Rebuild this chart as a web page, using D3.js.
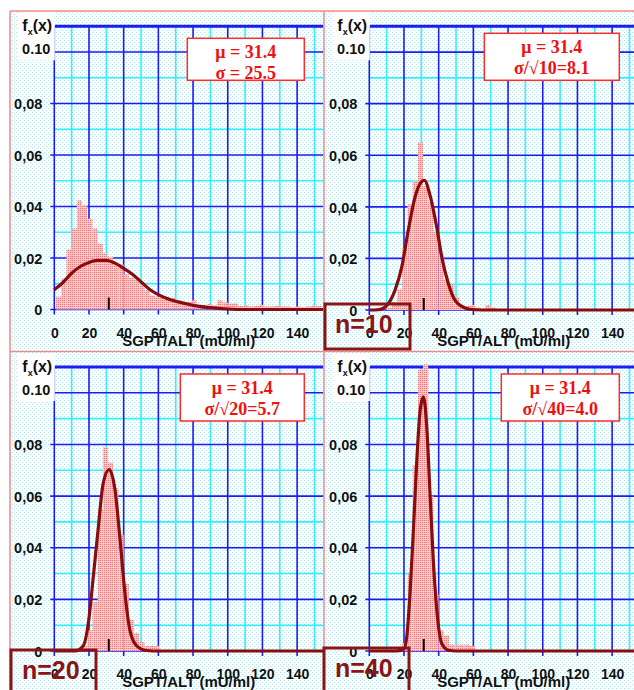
<!DOCTYPE html>
<html>
<head>
<meta charset="utf-8">
<script src="https://cdn.jsdelivr.net/npm/d3@7"></script>
<style>
  body { margin: 0; background: #fff; }
  svg { display: block; }
</style>
</head>
<body>
<svg id="chart" width="634" height="690"></svg>
<script>
// histogram bins (mU/ml), each 3 wide
const binStarts = [1, 4, 7, 10, 13, 16, 19, 22, 25, 28, 31, 34, 37, 40, 43, 46, 49, 52, 55, 58,
  61, 64, 67, 70, 73, 76, 79, 82, 85, 88, 91, 94, 97, 100, 103, 106, 109, 112, 115, 118,
  121, 124, 127, 130, 133, 136, 139, 142, 145, 148, 151];
const binWidth = 3;

// relative frequencies
const histSingle = [0.005, 0.012, 0.0233, 0.0315, 0.0424, 0.0405, 0.0353, 0.0315, 0.0256, 0.0218,
  0.0205, 0.0175, 0.0175, 0.0137, 0.0124, 0.0118, 0.0094, 0.0075, 0.0055, 0.0049,
  0.0049, 0.0049, 0.0045, 0.0032, 0.0029, 0.0029, 0.0036, 0.0017, 0.0017, 0.0022,
  0.0017, 0.0036, 0.0028, 0.0024, 0.0024, 0.0014, 0.0017, 0.0012, 0.0014, 0.0019,
  0.0012, 0.0012, 0.0014, 0.0012, 0.0012, 0.0010, 0.0012, 0.0010, 0.0012, 0.0014, 0.0014];
const histN10 = [0, 0, 0, 0.001, 0.003, 0.008, 0.024, 0.041, 0.050, 0.065,
  0.048, 0.042, 0.030, 0.022, 0.012, 0.010, 0.005, 0.002, 0.0015, 0.002,
  0.001, 0, 0.002, 0.001, 0, 0, 0, 0, 0, 0,
  0, 0, 0, 0, 0, 0, 0, 0, 0, 0,
  0, 0, 0, 0, 0, 0, 0, 0, 0, 0, 0];
const histN20 = [0, 0, 0, 0, 0, 0.002, 0.008, 0.019, 0.055, 0.079,
  0.073, 0.063, 0.045, 0.026, 0.012, 0.007, 0.0035, 0.002, 0.002, 0.002,
  0, 0, 0, 0, 0, 0, 0, 0, 0, 0,
  0, 0, 0, 0, 0, 0, 0, 0, 0, 0,
  0, 0, 0, 0, 0, 0, 0, 0, 0, 0, 0];
const histN40 = [0, 0, 0, 0, 0, 0, 0.003, 0.03, 0.072, 0.109,
  0.111, 0.06, 0.022, 0.008, 0.006, 0.0025, 0.0025, 0.0025, 0.0025, 0.002,
  0, 0, 0, 0, 0, 0, 0, 0, 0, 0,
  0, 0, 0, 0, 0, 0, 0, 0, 0, 0,
  0, 0, 0, 0, 0, 0, 0, 0, 0, 0, 0];

// fitted density curves, [x, f(x)] points
const curveSingle = [[0, 0.0077], [5, 0.0105], [10, 0.0141], [15, 0.0167], [20, 0.0183], [25, 0.0191],
  [30, 0.0191], [35, 0.018], [40, 0.016], [45, 0.0137], [50, 0.0108], [55, 0.0078], [60, 0.0058],
  [65, 0.0043], [70, 0.0032], [75, 0.0024], [80, 0.0016], [90, 0.0007], [100, 0.0002], [110, 0], [155, 0]];
const curveN10 = [[0, 0], [5, 0.0001], [9, 0.0011], [14.8, 0.0076], [18.7, 0.0166], [22.5, 0.031],
  [26.4, 0.0438], [29.3, 0.049], [31.7, 0.0503], [35, 0.0445], [38.9, 0.032], [41.8, 0.0205],
  [45.6, 0.0102], [49.5, 0.0037], [55.2, 0.0008], [61, 0.0001], [70, 0], [155, 0]];
const curveN20 = [[0, 0], [12, 0], [16.7, 0.002], [19.6, 0.0107], [22.5, 0.0288], [25.4, 0.048],
  [28.2, 0.065], [31.6, 0.0703], [35, 0.0624], [37.8, 0.044], [40.7, 0.0225], [43.6, 0.008],
  [47.5, 0.002], [53.2, 0.0002], [60, 0], [155, 0]];
const curveN40 = [[0, 0], [15, 0], [20, 0.0008], [21.6, 0.0055], [23.5, 0.0225], [25.5, 0.048],
  [27.4, 0.074], [29.3, 0.093], [31.2, 0.0984], [33.1, 0.087], [35, 0.061], [36.9, 0.035],
  [38.9, 0.016], [41.7, 0.003], [45.6, 0.0003], [50, 0], [155, 0]];

// text
const meanValue = 31.4;
const statLine1 = "\u03bc = 31.4";
const statLine2 = ["\u03c3 = 25.5", "\u03c3/\u221a10=8.1", "\u03c3/\u221a20=5.7", "\u03c3/\u221a40=4.0"];
const sampleLabels = [null, "n=10", "n=20", "n=40"];
const xTickVals = [0, 20, 40, 60, 80, 100, 120, 140];
const xMinorVals = [10, 30, 50, 70, 90, 110, 130, 150];
const yTickVals = [0, 0.02, 0.04, 0.06, 0.08];
const yTickText = ["0", "0,02", "0,04", "0,06", "0,08"];
const yTopText = "0.10";
const yMajorVals = [0, 0.02, 0.04, 0.06, 0.08, 0.10];
const yMinorVals = [0.01, 0.03, 0.05, 0.07, 0.09];
const xTitle = "SGPT/ALT (mU/ml)";

// panel placement
const panels = [
  { x0: 54.3, zeroY: 309.5, topY: 26.3, boxW: 117, boxDy: 12, hist: histSingle, curve: curveSingle },
  { x0: 369.3, zeroY: 310, topY: 26.3, boxW: 135, boxDy: 7, hist: histN10, curve: curveN10 },
  { x0: 54.3, zeroY: 651, topY: 367, boxW: 124, boxDy: 7, hist: histN20, curve: curveN20 },
  { x0: 369.3, zeroY: 651, topY: 367, boxW: 118, boxDy: 7, hist: histN40, curve: curveN40 },
];
const nBoxes = [null, { x: 325, y: 304, tx: 335, ty: 333 }, { x: 11, y: 650, tx: 22, ty: 679 },
  { x: 324, y: 648, tx: 335, ty: 677 }];

const svg = d3.select("#chart");
const defs = svg.append("defs");

// dotted cyan paper
const dots = defs.append("pattern").attr("id", "dots").attr("width", 4).attr("height", 4)
  .attr("patternUnits", "userSpaceOnUse");
dots.append("rect").attr("width", 4).attr("height", 4).attr("fill", "#fff");
dots.append("rect").attr("x", 0).attr("y", 0).attr("width", 1).attr("height", 1).attr("fill", "#a6e8f6");
dots.append("rect").attr("x", 2).attr("y", 2).attr("width", 1).attr("height", 1).attr("fill", "#a6e8f6");

// dithered pink for bars
const pink = defs.append("pattern").attr("id", "pink").attr("width", 2).attr("height", 2)
  .attr("patternUnits", "userSpaceOnUse");
pink.append("rect").attr("width", 2).attr("height", 2).attr("fill", "#fac8c8");
pink.append("rect").attr("width", 1).attr("height", 1).attr("fill", "#f07272");

svg.append("rect").attr("x", 10).attr("y", 11).attr("width", 624).attr("height", 679)
  .attr("fill", "url(#dots)");

const font = '"Liberation Sans", Arial, sans-serif';
const serif = '"Liberation Serif", "Times New Roman", serif';
const major = "#1c1cf2";
const minor = "#36f0ff";

panels.forEach((p, i) => {
  const x = d3.scaleLinear().domain([0, 155]).range([p.x0, p.x0 + 155 * 1.7345]);
  const y = d3.scaleLinear().domain([0, 0.11]).range([p.zeroY, p.topY]);
  const g = svg.append("g");

  // grid
  g.selectAll(".vmin").data(xMinorVals).join("line")
    .attr("x1", x).attr("x2", x).attr("y1", y(0)).attr("y2", y(0.11))
    .attr("stroke", minor).attr("stroke-width", 1.6);
  g.selectAll(".hmin").data(yMinorVals).join("line")
    .attr("x1", x(0)).attr("x2", x(155)).attr("y1", y).attr("y2", y)
    .attr("stroke", minor).attr("stroke-width", 1.6);
  g.selectAll(".vmaj").data(xTickVals).join("line")
    .attr("x1", x).attr("x2", x).attr("y1", y(0) + 5).attr("y2", y(0.11))
    .attr("stroke", major).attr("stroke-width", 1.6);
  g.selectAll(".hmaj").data(yMajorVals).join("line")
    .attr("x1", x(0) - 4).attr("x2", x(155)).attr("y1", y).attr("y2", y)
    .attr("stroke", major).attr("stroke-width", 1.6);
  g.append("line").attr("x1", x(0)).attr("x2", x(155)).attr("y1", y(0.11)).attr("y2", y(0.11))
    .attr("stroke", major).attr("stroke-width", 3);

  // histogram
  g.selectAll(".bar").data(binStarts.map((b, k) => ({ b, v: p.hist[k] }))).join("rect")
    .attr("x", (d) => x(d.b)).attr("width", (d) => x(d.b + binWidth) - x(d.b))
    .attr("y", (d) => y(d.v)).attr("height", (d) => y(0) - y(d.v))
    .attr("fill", "url(#pink)");

  // mean marker
  g.append("line").attr("x1", x(meanValue)).attr("x2", x(meanValue))
    .attr("y1", y(0)).attr("y2", y(0) - 12).attr("stroke", "#000").attr("stroke-width", 2);

  // fitted curve
  const ln = d3.line().x((d) => x(d[0])).y((d) => y(d[1])).curve(d3.curveMonotoneX);
  g.append("path").attr("d", ln(p.curve)).attr("fill", "none")
    .attr("stroke", "#8a0c0c").attr("stroke-width", 3.2).attr("stroke-linejoin", "round");

  // x axis labels
  const xa = g.append("g").attr("transform", `translate(0,${y(0)})`)
    .call(d3.axisBottom(x).tickValues(xTickVals).tickSize(0).tickFormat(d3.format("d")));
  xa.select(".domain").remove();
  xa.selectAll("text").attr("y", 28).attr("dy", null)
    .attr("font-family", font).attr("font-weight", "bold").attr("font-size", 14).attr("fill", "#111");
  g.append("text").attr("x", x(77.5)).attr("y", y(0) + 36).attr("text-anchor", "middle")
    .attr("font-family", font).attr("font-weight", "bold").attr("font-size", 15).attr("fill", "#111")
    .text(xTitle);

  // y axis labels
  const ya = g.append("g").attr("transform", `translate(${x(0)},0)`)
    .call(d3.axisLeft(y).tickValues(yTickVals).tickSize(0).tickPadding(12)
      .tickFormat((d, k) => yTickText[k]));
  ya.select(".domain").remove();
  ya.selectAll("text").attr("dy", "0.36em")
    .attr("font-family", font).attr("font-weight", "bold").attr("font-size", 14.5).attr("fill", "#111");

  // white label patch with f(x) and 0.10
  g.append("rect").attr("x", x(0) - 37).attr("y", y(0.11) - 14).attr("width", 37.5).attr("height", 48)
    .attr("fill", "#fff");
  const fl = g.append("text").attr("x", x(0) - 32).attr("y", y(0.11) + 5)
    .attr("font-family", font).attr("font-weight", "bold").attr("font-size", 16).attr("fill", "#111");
  fl.append("tspan").text("f");
  fl.append("tspan").attr("font-size", 9).attr("dy", 4).text("x");
  fl.append("tspan").attr("dy", -4).text("(x)");
  g.append("text").attr("x", x(0) - 4).attr("y", y(0.10) + 2).attr("text-anchor", "end")
    .attr("font-family", font).attr("font-weight", "bold").attr("font-size", 14.5).attr("fill", "#111")
    .text(yTopText);

  // statistics box
  const bx = x(0) + 250 - p.boxW;
  const by = y(0.11) + p.boxDy;
  g.append("rect").attr("x", bx).attr("y", by).attr("width", p.boxW).attr("height", i === 0 ? 42 : 47)
    .attr("fill", "#fff").attr("stroke", "#ff2a2a").attr("stroke-width", 1.5);
  g.append("text").attr("x", bx + p.boxW / 2).attr("y", by + 20).attr("text-anchor", "middle")
    .attr("font-family", serif).attr("font-weight", "bold").attr("font-size", 18).attr("fill", "#ee1111")
    .text(statLine1);
  g.append("text").attr("x", bx + p.boxW / 2).attr("y", by + 41).attr("text-anchor", "middle")
    .attr("font-family", serif).attr("font-weight", "bold").attr("font-size", 18).attr("fill", "#ee1111")
    .text(statLine2[i]);
});

// panel frames
const frame = svg.append("g").attr("stroke", "#f28a8a").attr("stroke-width", 1.5);
frame.append("line").attr("x1", 10).attr("x2", 634).attr("y1", 11).attr("y2", 11);
frame.append("line").attr("x1", 10).attr("x2", 10).attr("y1", 11).attr("y2", 690);
frame.append("line").attr("x1", 324).attr("x2", 324).attr("y1", 11).attr("y2", 690);
frame.append("line").attr("x1", 10).attr("x2", 634).attr("y1", 351.5).attr("y2", 351.5);

// sample size boxes
nBoxes.forEach((b, i) => {
  if (!b) return;
  svg.append("rect").attr("x", b.x).attr("y", b.y).attr("width", 85).attr("height", i === 1 ? 45 : 50)
    .attr("fill", "none").attr("stroke", "#8b1414").attr("stroke-width", 3);
  svg.append("text").attr("x", b.tx).attr("y", b.ty)
    .attr("font-family", font).attr("font-weight", "bold").attr("font-size", 25).attr("fill", "#8b1414")
    .text(sampleLabels[i]);
});
</script>
</body>
</html>
